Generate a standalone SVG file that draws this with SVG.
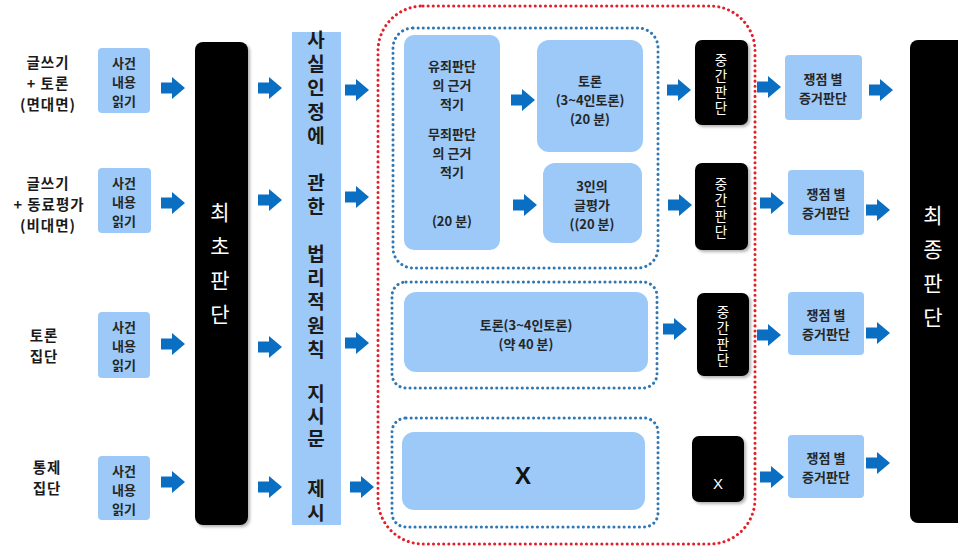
<svg xmlns="http://www.w3.org/2000/svg" width="958" height="546" viewBox="0 0 958 546">
<style>
text{font-family:"Noto Sans CJK KR","Noto Sans",sans-serif;dominant-baseline:central;text-anchor:middle}
.v{writing-mode:vertical-rl}
.lbl{font-size:14.5px;font-weight:bold;fill:#1a1a1a;letter-spacing:1px}
.lb{fill:#9CC9F7}
.bk{fill:#000}
.nt{font-size:13px;font-weight:bold;fill:#262626}
.wt{fill:#fff;font-size:21px;letter-spacing:13px}
.ws{fill:#fff;font-size:13.5px;letter-spacing:2.3px}
.vt{font-size:19px;font-weight:bold;fill:#1a1a1a;letter-spacing:5px}
.arr{fill:#0A6FC2}
.red{fill:none;stroke:#E3202A;stroke-width:3;stroke-dasharray:0.1 5;stroke-linecap:round}
.blu{fill:none;stroke:#2F78B4;stroke-width:3;stroke-dasharray:0.1 5;stroke-linecap:round}
</style>
<defs>
<path id="a" d="M0,-5.5H11V-11L24,0L11,11V5.5H0Z"/>
<filter id="sh" x="-20%" y="-10%" width="150%" height="130%"><feDropShadow dx="2" dy="2" stdDeviation="1.5" flood-opacity="0.3"/></filter>
</defs>
<rect width="958" height="546" fill="#fff"/>

<g id="group-labels">
<text class="lbl"><tspan x="48" y="61">글쓰기</tspan><tspan x="48" y="82">+ 토론</tspan><tspan x="48" y="103">(면대면)</tspan></text>
<text class="lbl"><tspan x="48" y="182">글쓰기</tspan><tspan x="49" y="203">+ 동료평가</tspan><tspan x="48" y="224">(비대면)</tspan></text>
<text class="lbl"><tspan x="44" y="334">토론</tspan><tspan x="44" y="355">집단</tspan></text>
<text class="lbl"><tspan x="47" y="466">통제</tspan><tspan x="47" y="487">집단</tspan></text>
</g>

<g id="read1"><rect class="lb" x="98" y="48" width="52" height="65" rx="4"/><text class="nt"><tspan x="124" y="62">사건</tspan><tspan x="124" y="81">내용</tspan><tspan x="124" y="100">읽기</tspan></text></g>
<g id="read2"><rect class="lb" x="98" y="168" width="53" height="65" rx="4"/><text class="nt"><tspan x="124" y="182">사건</tspan><tspan x="124" y="201">내용</tspan><tspan x="124" y="220">읽기</tspan></text></g>
<g id="read3"><rect class="lb" x="98" y="312" width="52" height="66" rx="4"/><text class="nt"><tspan x="124" y="326">사건</tspan><tspan x="124" y="345">내용</tspan><tspan x="124" y="364">읽기</tspan></text></g>
<g id="read4"><rect class="lb" x="98" y="456" width="52" height="64" rx="4"/><text class="nt"><tspan x="124" y="470">사건</tspan><tspan x="124" y="489">내용</tspan><tspan x="124" y="508">읽기</tspan></text></g>

<g id="initial"><rect class="bk" x="195" y="42" width="53" height="483" rx="8" filter="url(#sh)"/>
<text class="wt v" x="220" y="270">최초판단</text></g>

<g id="instruction"><rect class="lb" x="292" y="32" width="49" height="493"/>
<text class="vt v" x="316" y="90">사실인정에</text>
<text class="vt v" x="316" y="197">관한</text>
<text class="vt v" x="316" y="304">법리적원칙</text>
<text class="vt v" x="316" y="418" style="letter-spacing:3.5px">지시문</text>
<text class="vt v" x="316" y="503">제시</text></g>

<g id="treatment"><rect class="red" x="378" y="6" width="377" height="538" rx="45"/></g>
<g id="frame1"><rect class="blu" x="393" y="28" width="265" height="240" rx="20"/></g>
<g id="frame2"><rect class="blu" x="392" y="282" width="265" height="106" rx="14"/></g>
<g id="frame3"><rect class="blu" x="392" y="418" width="266" height="109" rx="14"/></g>

<g id="grounds"><rect class="lb" x="404" y="35" width="96" height="215" rx="10"/>
<text class="nt"><tspan x="452" y="65">유죄판단</tspan><tspan x="452" y="84">의 근거</tspan><tspan x="452" y="103">적기</tspan><tspan x="452" y="133">무죄판단</tspan><tspan x="452" y="152">의 근거</tspan><tspan x="452" y="171">적기</tspan><tspan x="452" y="220">(20 분)</tspan></text></g>
<g id="debate1"><rect class="lb" x="537" y="40" width="106" height="112" rx="12"/>
<text class="nt"><tspan x="590" y="80">토론</tspan><tspan x="590" y="99">(3~4인토론)</tspan><tspan x="590" y="118">(20 분)</tspan></text></g>
<g id="peer"><rect class="lb" x="543" y="163" width="99" height="80" rx="12"/>
<text class="nt"><tspan x="592" y="185">3인의</tspan><tspan x="592" y="204">글평가</tspan><tspan x="592" y="223">((20 분)</tspan></text></g>
<g id="debate2"><rect class="lb" x="404" y="292" width="244" height="80" rx="12"/>
<text class="nt"><tspan x="526" y="324">토론(3~4인토론)</tspan><tspan x="526" y="343">(약 40 분)</tspan></text></g>
<g id="none"><rect class="lb" x="402" y="432" width="243" height="78" rx="12"/>
<text x="523" y="475" style="font-family:'Liberation Sans',sans-serif;font-size:24px;font-weight:bold;fill:#111">X</text></g>

<g id="mid1"><rect class="bk" x="695" y="40" width="53" height="85" rx="7" filter="url(#sh)"/>
<text class="ws v" x="721" y="85">중간판단</text></g>
<g id="mid2"><rect class="bk" x="695" y="163" width="53" height="87" rx="7" filter="url(#sh)"/>
<text class="ws v" x="721" y="209">중간판단</text></g>
<g id="mid3"><rect class="bk" x="697" y="293" width="52" height="83" rx="7" filter="url(#sh)"/>
<text class="ws v" x="723" y="337">중간판단</text></g>
<g id="mid4"><rect class="bk" x="692" y="436" width="52" height="66" rx="7" filter="url(#sh)"/>
<text x="718" y="483" style="font-family:'Liberation Sans',sans-serif;font-size:15px;fill:#fff">X</text></g>

<g id="evid1"><rect class="lb" x="785" y="55" width="77" height="65" rx="4"/><text class="nt"><tspan x="823" y="78">쟁점 별</tspan><tspan x="823" y="97">증거판단</tspan></text></g>
<g id="evid2"><rect class="lb" x="788" y="170" width="76" height="65" rx="4"/><text class="nt"><tspan x="826" y="193">쟁점 별</tspan><tspan x="826" y="212">증거판단</tspan></text></g>
<g id="evid3"><rect class="lb" x="788" y="292" width="76" height="63" rx="4"/><text class="nt"><tspan x="826" y="314">쟁점 별</tspan><tspan x="826" y="333">증거판단</tspan></text></g>
<g id="evid4"><rect class="lb" x="788" y="435" width="76" height="63" rx="4"/><text class="nt"><tspan x="826" y="457">쟁점 별</tspan><tspan x="826" y="476">증거판단</tspan></text></g>

<g id="final"><rect class="bk" x="910" y="40" width="70" height="483" rx="8"/>
<text class="wt v" x="933" y="273">최종판단</text></g>

<g id="connectors" class="arr">
<use href="#a" x="161" y="88"/><use href="#a" x="161" y="203"/><use href="#a" x="161" y="344"/><use href="#a" x="161" y="482"/>
<use href="#a" x="258" y="88"/><use href="#a" x="258" y="200"/><use href="#a" x="258" y="347"/><use href="#a" x="258" y="487"/>
<use href="#a" x="345" y="90"/><use href="#a" x="345" y="197"/><use href="#a" x="345" y="343"/><use href="#a" x="350" y="487"/>
<use href="#a" x="511" y="100"/><use href="#a" x="513" y="205"/>
<use href="#a" x="667" y="90"/><use href="#a" x="668" y="205"/><use href="#a" x="663" y="329"/>
<use href="#a" x="757" y="87"/><use href="#a" x="760" y="203"/><use href="#a" x="757" y="335"/><use href="#a" x="760" y="477"/>
<use href="#a" x="869" y="90"/><use href="#a" x="866" y="210"/><use href="#a" x="866" y="333"/><use href="#a" x="866" y="463"/>
</g>
</svg>
